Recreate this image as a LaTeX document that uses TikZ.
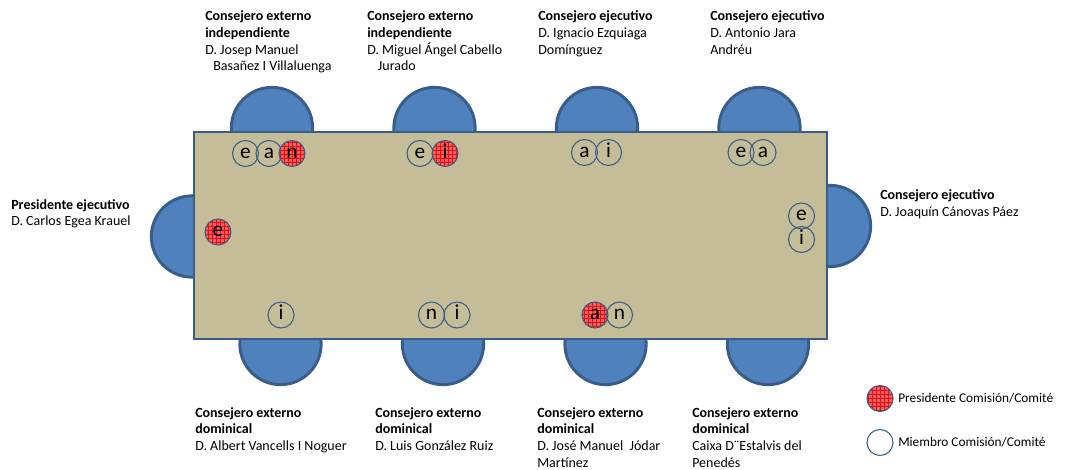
\documentclass[tikz,border=0pt]{standalone}
\usepackage{fontspec}
\setmainfont{Carlito}
\usetikzlibrary{patterns}
\definecolor{tablefill}{HTML}{C4BD97}
\definecolor{chairfill}{HTML}{4F81BD}
\definecolor{chairline}{HTML}{385D8A}
\definecolor{presfill}{HTML}{FF5A5A}
\definecolor{presgrid}{HTML}{D01818}
\begin{document}
\begin{tikzpicture}[
    x=0.75pt, y=-0.75pt,
    chair/.style={circle, fill=chairfill, draw=chairline, line width=2.2pt, minimum size=61pt, inner sep=0},
    boardtable/.style={rectangle, fill=tablefill, draw=chairline, line width=2.2pt, inner sep=0},
    member/.style={circle, draw=chairline, line width=0.8pt, minimum size=19.5pt, inner sep=0,
        font=\fontsize{16}{16}\selectfont, text height=7.4pt, text depth=0pt},
    chairman/.style={member, fill=presfill,
        path picture={\fill[pattern=grid, pattern color=presgrid]
            (path picture bounding box.south west) rectangle (path picture bounding box.north east);}},
    role/.style={anchor=base west, align=left, inner sep=0, font=\fontsize{10.5}{12.6}\selectfont},
    legendtext/.style={anchor=west, inner sep=0, font=\fontsize{10}{12}\selectfont}]
\useasboundingbox (0,0) rectangle (1066,470);

% chairs
\foreach \cx [count=\k] in {272,434.5,597,759.5}
    \node[chair] (top\k) at (\cx,128) {};
\foreach \cx [count=\k] in {280.5,443,605.5,768}
    \node[chair] (bottom\k) at (\cx,344) {};
\node[chair] (left) at (192,236.5) {};
\node[chair] (right) at (830,226) {};

% table
\path (194,132) coordinate (tnw) (827,339) coordinate (tse);
\draw[boardtable] (tnw) rectangle (tse);

% committees
\node[member]   (t1e) at (245.5,153.5) {e};
\node[member]   (t1a) at (269,153.5) {a};
\node[chairman] (t1n) at (292,153.5) {n};
\node[member]   (t2e) at (420,153.5) {e};
\node[chairman] (t2i) at (445,153.5) {i};
\node[member]   (t3a) at (584.5,152.5) {a};
\node[member]   (t3i) at (608.5,152.5) {i};
\node[member]   (t4e) at (741,152.5) {e};
\node[member]   (t4a) at (763,152.5) {a};
\node[chairman] (l1e) at (218,232) {e};
\node[member]   (r1e) at (801.5,216) {e};
\node[member]   (r1i) at (801.5,239.5) {i};
\node[member]   (b1i) at (281,315) {i};
\node[member]   (b2n) at (431.5,315) {n};
\node[member]   (b2i) at (457,315) {i};
\node[chairman] (b3a) at (595,315) {a};
\node[member]   (b3n) at (619.5,315) {n};

% names (base = last line)
\node[role] (toplabel1) at (205,71) {\textbf{Consejero externo}\\\textbf{independiente}\\D. Josep Manuel\\\hspace*{6pt}Basañez I Villaluenga};
\node[role] (toplabel2) at (367,71) {\textbf{Consejero externo}\\\textbf{independiente}\\D. Miguel Ángel Cabello\\\hspace*{8pt}Jurado};
\node[role] (toplabel3) at (538,54.2) {\textbf{Consejero ejecutivo}\\D. Ignacio Ezquiaga\\Domínguez};
\node[role] (toplabel4) at (710,54.2) {\textbf{Consejero ejecutivo}\\D. Antonio Jara\\Andréu};
\node[role] (leftlabel) at (11,226) {\textbf{Presidente ejecutivo}\\D. Carlos Egea Krauel};
\node[role] (rightlabel) at (880,216.7) {\textbf{Consejero ejecutivo}\\D. Joaquín Cánovas Páez};
\node[role] (bottomlabel1) at (195,450.7) {\textbf{Consejero externo}\\\textbf{dominical}\\D. Albert Vancells I Noguer};
\node[role] (bottomlabel2) at (375,450.7) {\textbf{Consejero externo}\\\textbf{dominical}\\D. Luis González Ruiz};
\node[role] (bottomlabel3) at (537,467.5) {\textbf{Consejero externo}\\\textbf{dominical}\\D. José Manuel~ Jódar\\Martínez};
\node[role] (bottomlabel4) at (692,467.5) {\textbf{Consejero externo}\\\textbf{dominical}\\Caixa D¨Estalvis del\\Penedés};

% legend
\node[chairman] (keypres) at (880,398.5) {};
\node[member]   (keymember) at (880,442.5) {};
\node[legendtext] (keypreslabel) at (898,398.5) {Presidente Comisión/Comité};
\node[legendtext] (keymemberlabel) at (898,442.5) {Miembro Comisión/Comité};

\end{tikzpicture}
\end{document}
